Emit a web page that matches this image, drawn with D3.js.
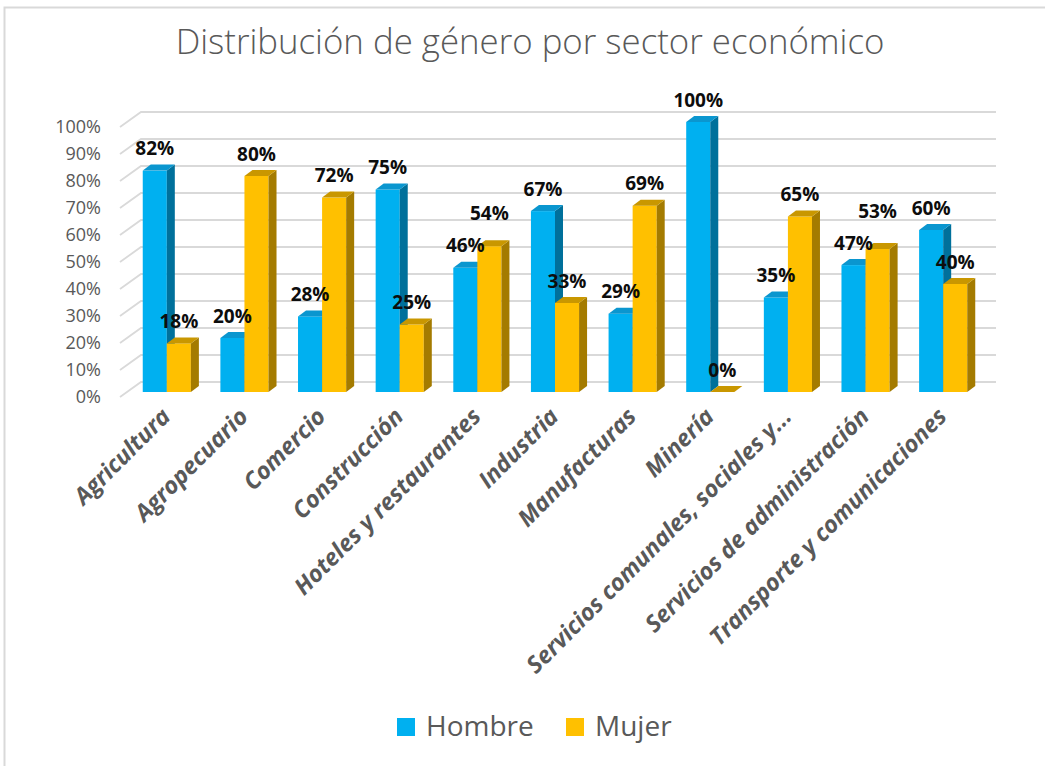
<!DOCTYPE html>
<html>
<head>
<meta charset="utf-8">
<script src="https://cdn.jsdelivr.net/npm/d3@7"></script>
<style>
  body { margin: 0; background: #fff; }
  svg { display: block; font-family: 'Open Sans', sans-serif; }
</style>
</head>
<body>
<div id="chart"></div>
<script>
/* chart data */
const sectors = [
  'Agricultura', 'Agropecuario', 'Comercio', 'Construcción',
  'Hoteles y restaurantes', 'Industria', 'Manufacturas', 'Minería',
  'Servicios comunales, sociales y...', 'Servicios de administración',
  'Transporte y comunicaciones'
]
const hombre = [0.82, 0.20, 0.28, 0.75, 0.46, 0.67, 0.29, 1.00, 0.35, 0.47, 0.60]
const mujer = [0.18, 0.80, 0.72, 0.25, 0.54, 0.33, 0.69, 0.00, 0.65, 0.53, 0.40]
const seriesNames = ['Hombre', 'Mujer']
const tickValues = [0, 0.1, 0.2, 0.3, 0.4, 0.5, 0.6, 0.7, 0.8, 0.9, 1.0]

/* dimensions */
const W = 1045
const H = 766
const depth = { dx: 8, dy: -6 }   // oblique offset of bar sides
const wall = { dx: 21, dy: -15 }  // offset of back wall from axis

/* colours: front, top, side */
const palette = {
  Hombre: { front: '#00b0f0', top: '#0a96cf', side: '#00709b' },
  Mujer: { front: '#ffc000', top: '#c99700', side: '#a47b00' }
}

const svg = d3.select('#chart').append('svg')
  .attr('width', W)
  .attr('height', H)

/* chart frame */
svg.append('path')
  .attr('d', `M4.5,${H} V7.5 H${W}`)
  .attr('fill', 'none')
  .attr('stroke', '#d9d9d9')
  .attr('stroke-width', 2)

/* title */
svg.append('text')
  .attr('x', 530)
  .attr('y', 54)
  .attr('text-anchor', 'middle')
  .attr('fill', '#595959')
  .style('font-size', '34.8px')
  .style('font-weight', 300)
  .text('Distribución de género por sector económico')

/* scales */
const x = d3.scaleBand()
  .domain(sectors)
  .range([128, 982])
  .paddingInner(0.38)
  .paddingOuter(0.19)

const xs = d3.scaleBand()
  .domain(seriesNames)
  .range([0, x.bandwidth()])

const y = d3.scaleLinear().domain([0, 1]).range([392, 122])      // bar front faces
const yAxisScale = d3.scaleLinear().domain([0, 1]).range([397, 127])  // front of side wall

/* back wall gridlines + side wall diagonals */
const axisX = 120
const grid = svg.append('g').attr('class', 'grid')
tickValues.forEach(function (t) {
  const yf = yAxisScale(t)
  grid.append('path')
    .attr('d', `M${axisX},${yf} L${axisX + wall.dx},${yf + wall.dy} H996`)
    .attr('fill', 'none')
    .attr('stroke', '#d9d9d9')
    .attr('stroke-width', 1.8)
})

/* y axis labels */
svg.append('g')
  .attr('transform', `translate(${axisX}, 0)`)
  .call(d3.axisLeft(yAxisScale)
    .tickValues(tickValues)
    .tickFormat(d3.format('.0%'))
    .tickSize(0)
    .tickPadding(19))
  .call((g) => g.select('.domain').remove())
  .call((g) => g.selectAll('.tick text')
    .attr('fill', '#595959')
    .style('font-family', "'Open Sans', sans-serif")
    .style('font-size', '18px'))

/* bars as oblique 3D prisms */
const rows = []
sectors.forEach(function (s, i) {
  rows.push({ sector: s, series: 'Hombre', value: hombre[i] })
  rows.push({ sector: s, series: 'Mujer', value: mujer[i] })
})

const bars = svg.append('g').attr('class', 'bars')
rows.forEach(function (d) {
  const x0 = x(d.sector) + xs(d.series)
  const x1 = x0 + xs.bandwidth()
  const y0 = y(0)
  const y1 = y(d.value)
  const c = palette[d.series]
  const g = bars.append('g')
  g.append('rect')
    .attr('x', x0).attr('y', y1)
    .attr('width', x1 - x0).attr('height', y0 - y1)
    .attr('fill', c.front)
  g.append('path')
    .attr('d', `M${x1},${y0} L${x1 + depth.dx},${y0 + depth.dy} L${x1 + depth.dx},${y1 + depth.dy} L${x1},${y1}Z`)
    .attr('fill', c.side)
  g.append('path')
    .attr('d', `M${x0},${y1} L${x1},${y1} L${x1 + depth.dx},${y1 + depth.dy} L${x0 + depth.dx},${y1 + depth.dy}Z`)
    .attr('fill', c.top)
})

/* data labels */
const fmt = d3.format('.0%')
const labels = svg.append('g').attr('class', 'data-labels')
sectors.forEach(function (s, i) {
  let yh = y(hombre[i]) - 22
  let ym = y(mujer[i]) - 22
  /* nudge the taller bar's label when the pair would collide */
  if (Math.abs(yh - ym) < 24) {
    if (hombre[i] > mujer[i]) yh = ym - 32
    else ym = yh - 32
  }
  const pos = { Hombre: yh, Mujer: ym }
  seriesNames.forEach(function (n) {
    const v = n === 'Hombre' ? hombre[i] : mujer[i]
    labels.append('text')
      .attr('x', x(s) + xs(n) + xs.bandwidth() / 2)
      .attr('y', pos[n])
      .attr('dy', '0.35em')
      .attr('text-anchor', 'middle')
      .attr('fill', '#0d0d0d')
      .style('font-size', '19px')
      .style('font-weight', 'bold')
      .text(fmt(v))
  })
})

/* category labels, rotated */
svg.append('g')
  .attr('class', 'cat-labels')
  .selectAll('text')
  .data(sectors)
  .join('text')
  .attr('transform', (d) => `translate(${x(d) + x.bandwidth() / 2 + 5}, 418) rotate(-45)`)
  .attr('text-anchor', 'end')
  .attr('fill', '#595959')
  .style('font-size', '23.5px')
  .style('font-weight', 'bold')
  .style('font-style', 'italic')
  .text((d) => d)

/* legend */
const legend = svg.append('g').attr('class', 'legend')
const legendX = { Hombre: 397, Mujer: 566 }
seriesNames.forEach(function (n) {
  legend.append('rect')
    .attr('x', legendX[n]).attr('y', 718)
    .attr('width', 18).attr('height', 18)
    .attr('fill', palette[n].front)
  legend.append('text')
    .attr('x', legendX[n] + 29)
    .attr('y', 736)
    .attr('fill', '#595959')
    .style('font-size', '28px')
    .text(n)
})
</script>
</body>
</html>
